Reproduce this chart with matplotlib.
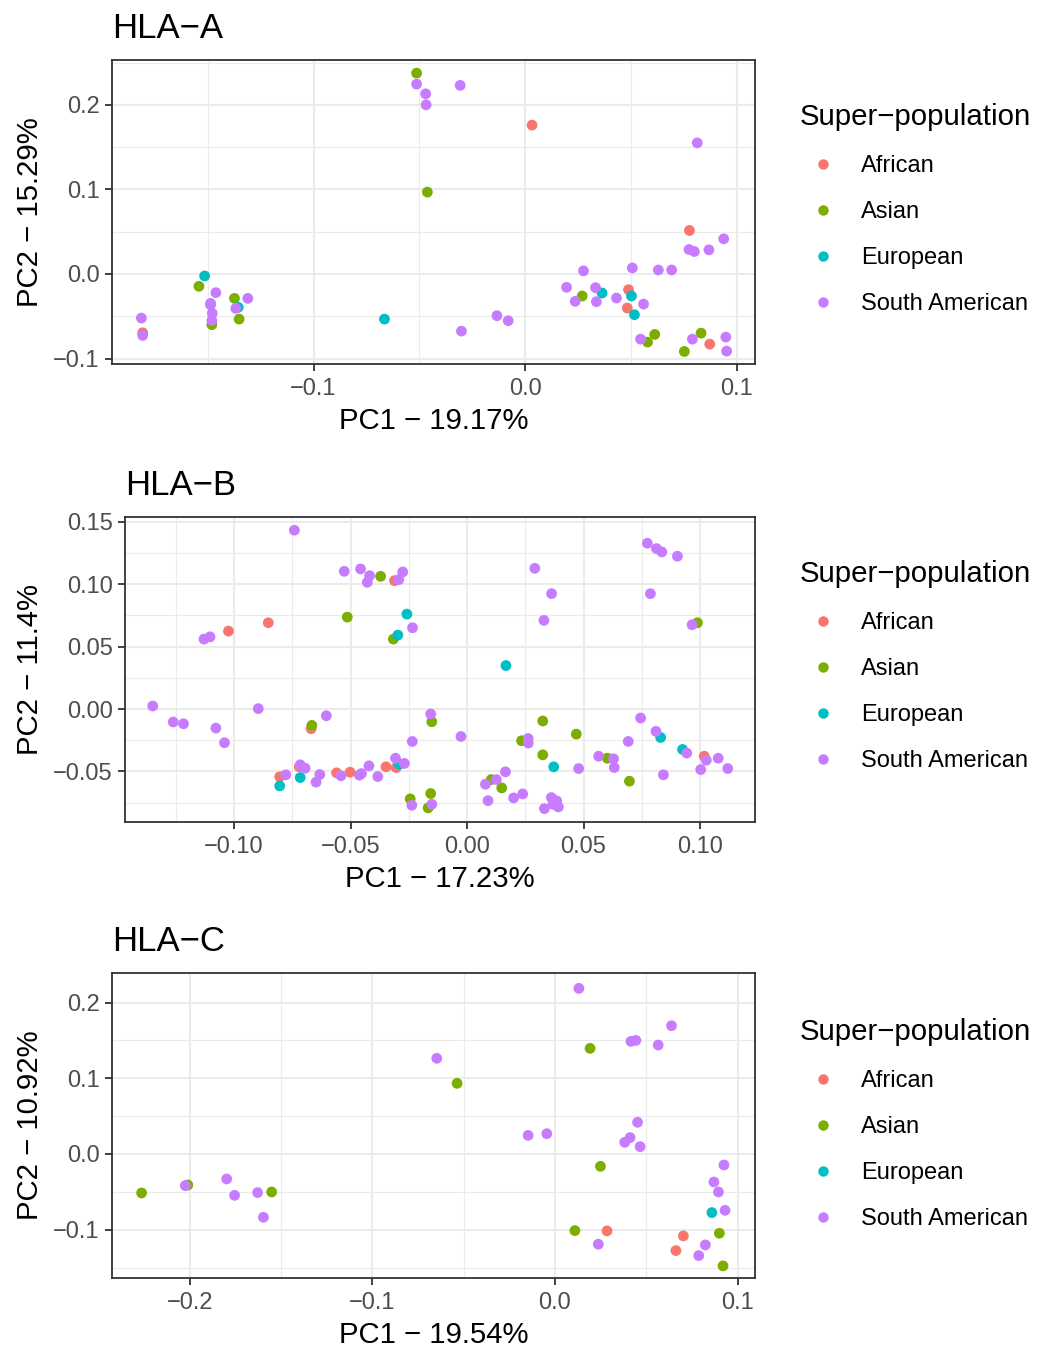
import matplotlib
matplotlib.use("Agg")
import matplotlib.pyplot as plt
from matplotlib.lines import Line2D
from matplotlib.ticker import FuncFormatter, MultipleLocator

plt.rcParams['font.family'] = ['Liberation Sans', 'DejaVu Sans']

populations = ["African", "Asian", "European", "South American"]
pop_codes = ["AFR", "ASN", "EUR", "SAM"]
pop_colors = ["#F8766D", "#7CAE00", "#00BFC4", "#C77CFF"]

# HLA-A
a_pc1 = [-0.0513, -0.0513, -0.0470, -0.0468, -0.0307, 0.0033, 0.0814, -0.0462, 0.0777, 0.0939,
         0.0775, 0.0800, 0.0869, 0.0507, 0.0630, 0.0693, 0.0276, 0.0196, 0.0333, 0.0270,
         0.0364, 0.0237, 0.0337, 0.0432, 0.0489, 0.0503, 0.0560, 0.0483, 0.0517, 0.0546,
         0.0613, 0.0579, 0.0753, 0.0791, 0.0832, 0.0873, 0.0949, 0.0953, -0.0133, -0.0080,
         -0.0301, -0.0665, -0.1515, -0.1542, -0.1462, -0.1487, -0.1487, -0.1374, -0.1356, -0.1368,
         -0.1311, -0.1479, -0.1481, -0.1481, -0.1352, -0.1814, -0.1808, -0.1808]
a_pc2 = [0.2375, 0.2245, 0.2130, 0.2000, 0.2230, 0.1760, 0.1550, 0.0968, 0.0514, 0.0415,
         0.0289, 0.0265, 0.0285, 0.0071, 0.0047, 0.0047, 0.0036, -0.0158, -0.0162, -0.0261,
         -0.0225, -0.0324, -0.0328, -0.0285, -0.0186, -0.0261, -0.0356, -0.0403, -0.0482, -0.0771,
         -0.0715, -0.0806, -0.0917, -0.0771, -0.0700, -0.0830, -0.0747, -0.0913, -0.0494, -0.0553,
         -0.0676, -0.0534, -0.0024, -0.0146, -0.0221, -0.0348, -0.0365, -0.0289, -0.0395, -0.0407,
         -0.0289, -0.0466, -0.0550, -0.0600, -0.0534, -0.0522, -0.0696, -0.0727]
a_pop = ["ASN", "SAM", "SAM", "SAM", "SAM", "AFR", "SAM", "ASN", "AFR", "SAM",
         "SAM", "SAM", "SAM", "SAM", "SAM", "SAM", "SAM", "SAM", "SAM", "ASN",
         "EUR", "SAM", "SAM", "SAM", "AFR", "EUR", "SAM", "AFR", "EUR", "SAM",
         "ASN", "ASN", "ASN", "SAM", "ASN", "AFR", "SAM", "SAM", "SAM", "SAM",
         "SAM", "EUR", "EUR", "ASN", "SAM", "SAM", "SAM", "ASN", "EUR", "SAM",
         "SAM", "SAM", "SAM", "ASN", "ASN", "SAM", "AFR", "SAM"]

# HLA-B
b_pc1 = [-0.0741, -0.0527, -0.0457, -0.0418, -0.0428, -0.0371, -0.0311, -0.0293, -0.0276, -0.0514,
         -0.0258, -0.0297, -0.0316, -0.0234, -0.0853, -0.1024, -0.1103, -0.1129, 0.0291, 0.0363,
         0.0330, 0.0167, 0.0774, 0.0813, 0.0836, 0.0903, 0.0787, 0.0989, 0.0966, -0.1349,
         -0.1261, -0.1217, -0.1078, -0.1041, -0.0896, -0.0604, -0.0666, -0.0669, -0.0156, -0.0151,
         -0.0235, -0.0026, -0.0804, -0.0804, -0.0778, -0.0720, -0.0716, -0.0695, -0.0716, -0.0648,
         -0.0632, -0.0560, -0.0541, -0.0502, -0.0462, -0.0453, -0.0421, -0.0383, -0.0348, -0.0304,
         -0.0307, -0.0291, -0.0269, -0.0244, -0.0237, -0.0156, -0.0151, -0.0167, 0.0104, 0.0126,
         0.0079, 0.0149, 0.0165, 0.0090, 0.0200, 0.0239, 0.0332, 0.0362, 0.0385, 0.0369,
         0.0392, 0.0234, 0.0262, 0.0263, 0.0325, 0.0325, 0.0372, 0.0469, 0.0479, 0.0565,
         0.0602, 0.0629, 0.0632, 0.0697, 0.0692, 0.0745, 0.0811, 0.0831, 0.0925, 0.0943,
         0.0843, 0.1018, 0.1027, 0.1078, 0.1003, 0.1119]
b_pc2 = [0.1432, 0.1103, 0.1122, 0.1068, 0.1015, 0.1063, 0.1028, 0.1036, 0.1098, 0.0736,
         0.0760, 0.0592, 0.0560, 0.0651, 0.0691, 0.0624, 0.0578, 0.0560, 0.1127, 0.0924,
         0.0710, 0.0348, 0.1328, 0.1285, 0.1258, 0.1224, 0.0924, 0.0691, 0.0675, 0.0024,
         -0.0104, -0.0118, -0.0153, -0.0270, 0.0003, -0.0054, -0.0131, -0.0158, -0.0040, -0.0102,
         -0.0260, -0.0220, -0.0543, -0.0616, -0.0527, -0.0463, -0.0447, -0.0474, -0.0549, -0.0586,
         -0.0525, -0.0511, -0.0535, -0.0506, -0.0530, -0.0517, -0.0455, -0.0541, -0.0463, -0.0469,
         -0.0394, -0.0442, -0.0436, -0.0720, -0.0771, -0.0677, -0.0763, -0.0792, -0.0565, -0.0565,
         -0.0602, -0.0632, -0.0503, -0.0734, -0.0712, -0.0680, -0.0798, -0.0709, -0.0736, -0.0763,
         -0.0784, -0.0254, -0.0236, -0.0273, -0.0096, -0.0367, -0.0463, -0.0201, -0.0477, -0.0378,
         -0.0394, -0.0399, -0.0469, -0.0578, -0.0260, -0.0072, -0.0179, -0.0228, -0.0324, -0.0353,
         -0.0527, -0.0378, -0.0410, -0.0394, -0.0485, -0.0477]
b_pop = ["SAM", "SAM", "SAM", "SAM", "SAM", "ASN", "AFR", "SAM", "SAM", "ASN",
         "EUR", "EUR", "ASN", "SAM", "AFR", "AFR", "SAM", "SAM", "SAM", "SAM",
         "SAM", "EUR", "SAM", "SAM", "SAM", "SAM", "SAM", "ASN", "SAM", "SAM",
         "SAM", "SAM", "SAM", "SAM", "SAM", "SAM", "ASN", "AFR", "SAM", "ASN",
         "SAM", "SAM", "AFR", "EUR", "SAM", "AFR", "SAM", "SAM", "EUR", "SAM",
         "SAM", "AFR", "SAM", "AFR", "SAM", "SAM", "SAM", "SAM", "AFR", "AFR",
         "SAM", "EUR", "SAM", "ASN", "SAM", "ASN", "SAM", "ASN", "ASN", "SAM",
         "SAM", "ASN", "SAM", "SAM", "SAM", "SAM", "SAM", "SAM", "SAM", "SAM",
         "SAM", "ASN", "SAM", "SAM", "ASN", "ASN", "EUR", "ASN", "SAM", "SAM",
         "ASN", "SAM", "SAM", "ASN", "SAM", "SAM", "SAM", "EUR", "EUR", "SAM",
         "SAM", "AFR", "SAM", "SAM", "SAM", "SAM"]

# HLA-C
c_pc1 = [0.0131, 0.0638, 0.0416, 0.0443, 0.0565, 0.0192, -0.0647, -0.0536, 0.0452, 0.0411,
         0.0382, 0.0466, -0.0147, -0.0045, 0.0249, -0.2263, -0.2010, -0.2024, -0.1797, -0.1754,
         -0.1628, -0.1551, -0.1596, 0.0925, 0.0870, 0.0895, 0.0931, 0.0859, 0.0109, 0.0285,
         0.0237, 0.0703, 0.0662, 0.0823, 0.0787, 0.0900, 0.0920]
c_pc2 = [0.2187, 0.1694, 0.1487, 0.1500, 0.1439, 0.1395, 0.1263, 0.0933, 0.0418, 0.0216,
         0.0154, 0.0097, 0.0246, 0.0268, -0.0163, -0.0515, -0.0409, -0.0418, -0.0330, -0.0546,
         -0.0510, -0.0502, -0.0836, -0.0145, -0.0370, -0.0502, -0.0744, -0.0774, -0.1012, -0.1016,
         -0.1192, -0.1082, -0.1276, -0.1201, -0.1342, -0.1047, -0.1478]
c_pop = ["SAM", "SAM", "SAM", "SAM", "SAM", "ASN", "SAM", "ASN", "SAM", "SAM",
         "SAM", "SAM", "SAM", "SAM", "ASN", "ASN", "ASN", "SAM", "SAM", "SAM",
         "SAM", "ASN", "SAM", "SAM", "SAM", "SAM", "SAM", "EUR", "ASN", "AFR",
         "SAM", "AFR", "AFR", "SAM", "SAM", "ASN", "ASN"]

titles = ["HLA\u2212A", "HLA\u2212B", "HLA\u2212C"]
xlabels = ["PC1 \u2212 19.17%", "PC1 \u2212 17.23%", "PC1 \u2212 19.54%"]
ylabels = ["PC2 \u2212 15.29%", "PC2 \u2212 11.4%", "PC2 \u2212 10.92%"]
xticks = [[-0.1, 0.0, 0.1], [-0.10, -0.05, 0.00, 0.05, 0.10], [-0.2, -0.1, 0.0, 0.1]]
yticks = [[-0.1, 0.0, 0.1, 0.2], [-0.05, 0.00, 0.05, 0.10, 0.15], [-0.1, 0.0, 0.1, 0.2]]
decimals = [1, 2, 1]

W, H = 1039, 1351
fig = plt.figure(figsize=(W / 100, H / 100), dpi=100)

# panel boxes in pixels: left, top, right, bottom
boxes = [(112, 60, 755, 364), (125, 517, 755, 822), (112, 973, 755, 1278)]
xlims = [(-0.1953, 0.1087), (-0.1468, 0.1236), (-0.2425, 0.1095)]
ylims = [(-0.1065, 0.253), (-0.0905, 0.1538), (-0.1638, 0.239)]
legend_top = [103, 560, 1018]

data = [(a_pc1, a_pc2, a_pop), (b_pc1, b_pc2, b_pop), (c_pc1, c_pc2, c_pop)]

for i in range(3):
    l, t, r, b = boxes[i]
    ax = fig.add_axes([l / W, 1 - b / H, (r - l) / W, (b - t) / H])
    pc1, pc2, pop = data[i]
    for code, name, col in zip(pop_codes, populations, pop_colors):
        xs = [x for x, p in zip(pc1, pop) if p == code]
        ys = [y for y, p in zip(pc2, pop) if p == code]
        ax.scatter(xs, ys, s=60, color=col, edgecolors='none', zorder=3)

    ax.set_xlim(xlims[i])
    ax.set_ylim(ylims[i])
    ax.set_xticks(xticks[i])
    ax.set_yticks(yticks[i])
    step = xticks[i][1] - xticks[i][0]
    ax.xaxis.set_minor_locator(MultipleLocator(step / 2))
    step = yticks[i][1] - yticks[i][0]
    ax.yaxis.set_minor_locator(MultipleLocator(step / 2))
    d = decimals[i]
    fmt = FuncFormatter(lambda v, pos, d=d: ("%.*f" % (d, v)).replace("-", "\u2212"))
    ax.xaxis.set_major_formatter(fmt)
    ax.yaxis.set_major_formatter(fmt)

    ax.grid(which='major', color='#EBEBEB', linewidth=1.5, zorder=0)
    ax.grid(which='minor', color='#EBEBEB', linewidth=0.8, zorder=0)
    ax.set_axisbelow(True)
    for sp in ax.spines.values():
        sp.set_color('#333333')
        sp.set_linewidth(1.3)
    ax.tick_params(which='major', length=5, width=1.3, color='#333333',
                   labelsize=17, labelcolor='#4D4D4D')
    ax.tick_params(axis='x', which='major', pad=5)
    ax.tick_params(axis='y', which='major', pad=4)
    ax.tick_params(which='minor', length=0)

    ax.set_xlabel(xlabels[i], fontsize=21.2, labelpad=5)
    ax.set_ylabel(ylabels[i], fontsize=21.2, labelpad=6.5)
    ax.set_title(titles[i], loc='left', fontsize=25, pad=15.5)

    handles = [Line2D([], [], marker='o', linestyle='', color=c, markersize=7.5,
                      markeredgewidth=0) for c in pop_colors]
    ax.legend(handles, populations, loc='upper left',
              bbox_to_anchor=(800 / W, 1 - legend_top[i] / H), bbox_transform=fig.transFigure,
              frameon=False, title="Super\u2212population", title_fontsize=21.2, fontsize=17,
              alignment='left', borderpad=0, borderaxespad=0, handlelength=1.95,
              handletextpad=0.62, labelspacing=1.02)

fig.savefig("out.png", dpi=100)
